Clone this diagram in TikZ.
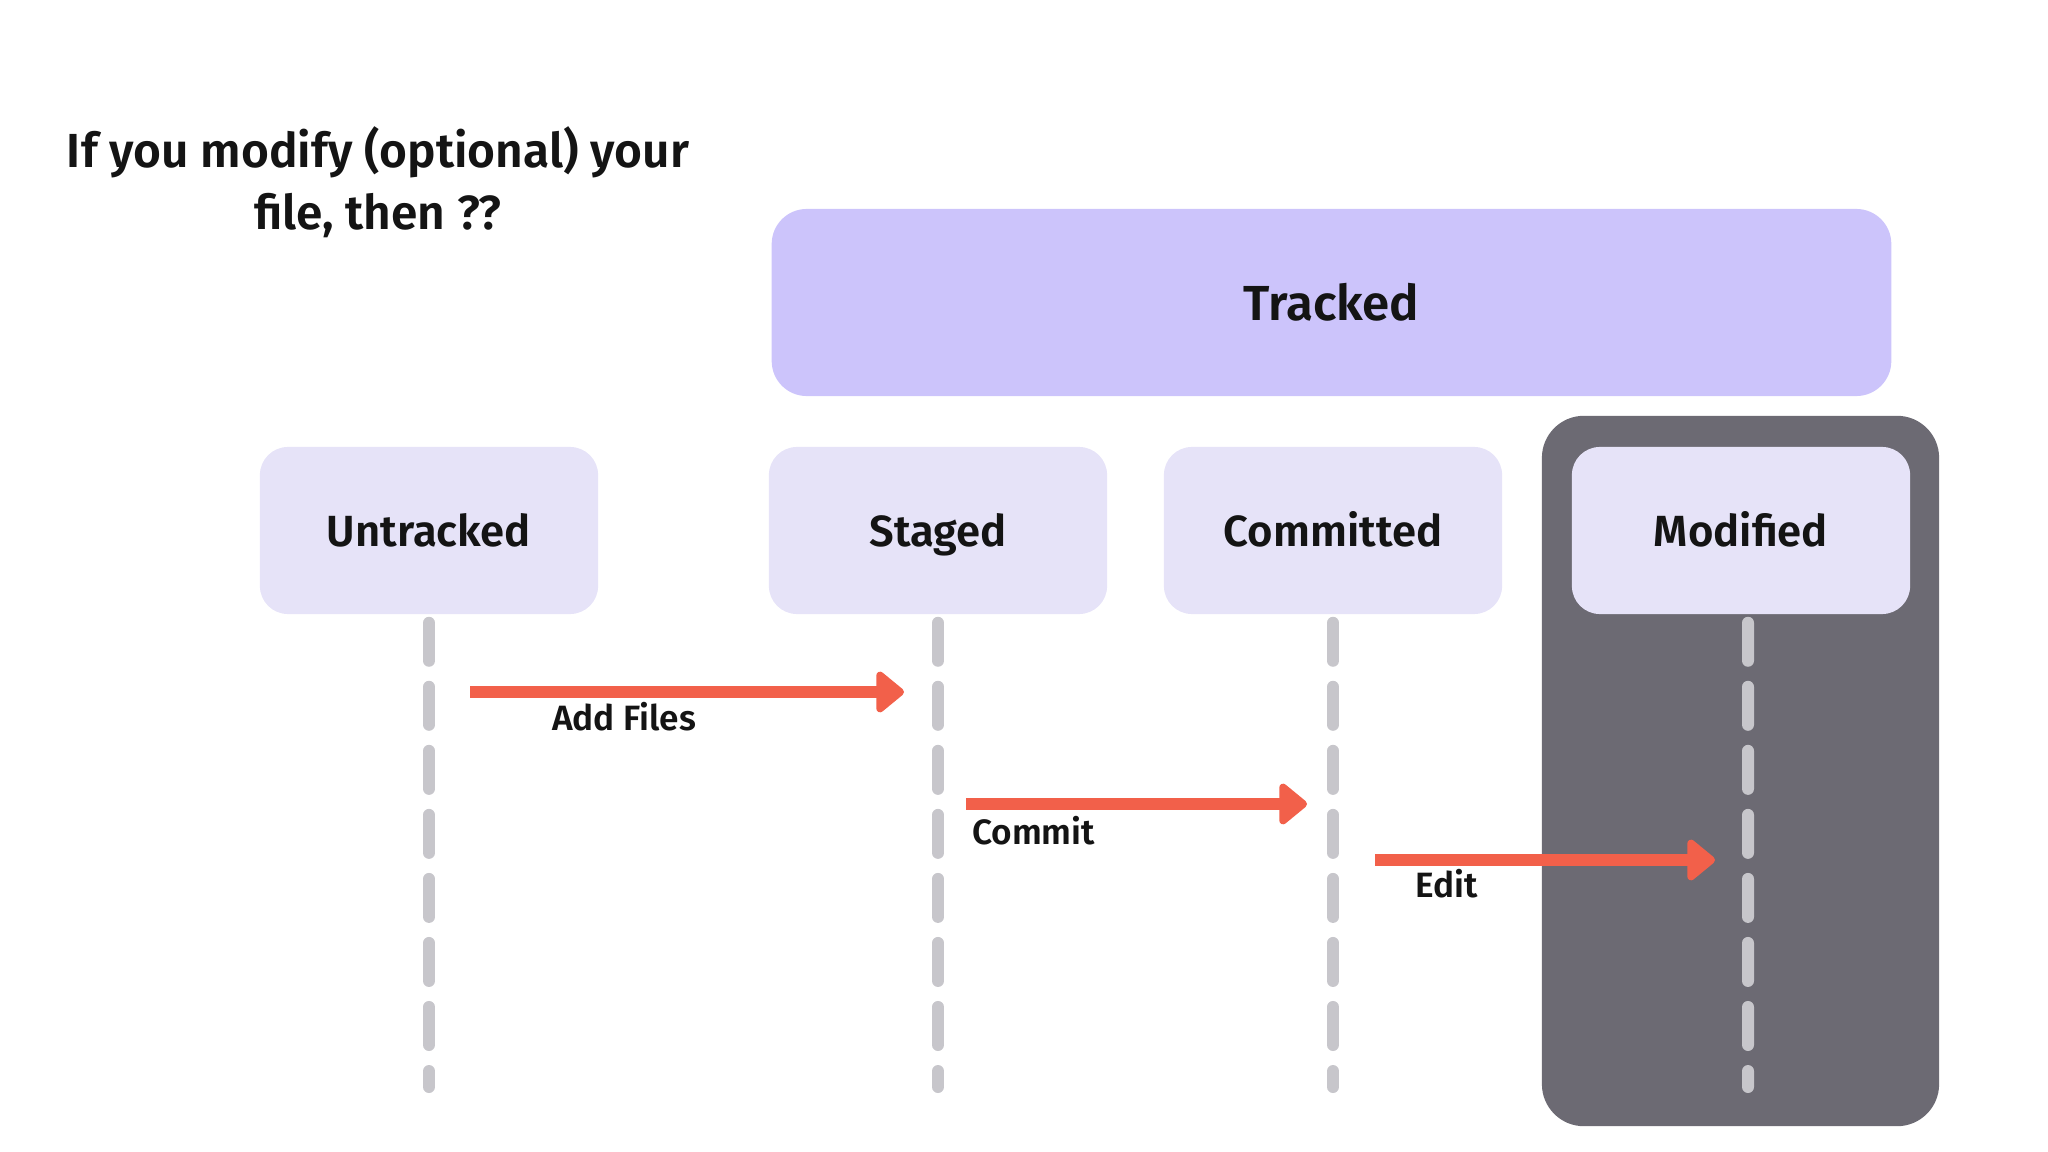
\documentclass[tikz,border=0pt]{standalone}
\usepackage{fontspec}
\setmainfont{Fira Sans}[BoldFont={Fira Sans SemiBold}]
\usepackage{xcolor}
\usetikzlibrary{arrows.meta}
\usetikzlibrary{positioning}

\definecolor{trackedfill}{HTML}{CCC4FB}
\definecolor{boxfill}{HTML}{E6E3F8}
\definecolor{zonefill}{HTML}{6C6A73}
\definecolor{lifegray}{HTML}{C7C6CB}
\definecolor{flowred}{HTML}{F2604A}
\definecolor{ink}{HTML}{141414}

\tikzset{
	statebox/.style={rectangle, rounded corners=0.28cm, fill=boxfill, minimum width=3.38cm, minimum height=1.67cm, text=ink, text height=0.32cm, text depth=0pt, font=\fontsize{12.4}{15}\selectfont\bfseries},
	lifeline/.style={draw=lifegray, line width=0.12cm, line cap=round, dash pattern=on 0.38cm off 0.26cm},
	flow/.style={draw=flowred, line width=0.11cm, -{Triangle[length=0.30cm, width=0.47cm, round]}},
	flowlabel/.style={inner sep=0pt, text=ink, font=\fontsize{10}{12}\selectfont\bfseries}
}

\begin{document}
\begin{tikzpicture}[x=0.01cm, y=-0.01cm]
			\useasboundingbox (0,0) rectangle (2048,1152);
			
			\node[inner sep=0pt, anchor=north, align=center, text=ink, font=\fontsize{13.6}{17.6}\selectfont\bfseries] (question) at (378, 126) {If you modify (optional) your\\file, then ??};
			
			\node[rectangle, rounded corners=0.35cm, fill=trackedfill, minimum width=11.19cm, minimum height=1.87cm, text=ink, font=\fontsize{14}{17}\selectfont\bfseries] (tracked) at (1331.5, 302.5) {Tracked};
			\node[rectangle, rounded corners=0.42cm, fill=zonefill, minimum width=3.97cm, minimum height=7.10cm] (modzone) at (1740.5, 771) {};
			
			\node[statebox] (untracked) at (429, 530.5) {Untracked};
			\node[statebox] (staged) at (938, 530.5) {Staged};
			\node[statebox] (committed) at (1333, 530.5) {Committed};
			\node[statebox] (modified) at (1741, 530.5) {Modified};
			
			\coordinate (untrackedEnd) at (429, 1087);
			\coordinate (stagedEnd) at (938, 1087);
			\coordinate (committedEnd) at (1333, 1087);
			\coordinate (modifiedEnd) at (1748, 1087);
			
			%  lifelines
			\draw[lifeline] ([yshift=-0.08cm]untracked.south) -- (untrackedEnd);
			\draw[lifeline] ([yshift=-0.08cm]staged.south) -- (stagedEnd);
			\draw[lifeline] ([yshift=-0.08cm]committed.south) -- (committedEnd);
			\draw[lifeline] ([xshift=0.07cm, yshift=-0.08cm]modified.south) -- (modifiedEnd);
			
			\coordinate (addFrom) at (470, 692);
			\coordinate (addTo) at (904, 692);
			\coordinate (commitFrom) at (966, 804);
			\coordinate (commitTo) at (1307, 804);
			\coordinate (editFrom) at (1375, 860);
			\coordinate (editTo) at (1715, 860);
			
			%  steps
			\draw[flow] (addFrom) -- node[flowlabel, pos=0.355, below=0.05cm] (addLabel) {Add Files} (addTo);
			\draw[flow] (commitFrom) -- node[flowlabel, pos=0.198, below=0.07cm] (commitLabel) {Commit} (commitTo);
			\draw[flow] (editFrom) -- node[flowlabel, pos=0.212, below=0.04cm] (editLabel) {Edit} (editTo);
		\end{tikzpicture}
\end{document}
